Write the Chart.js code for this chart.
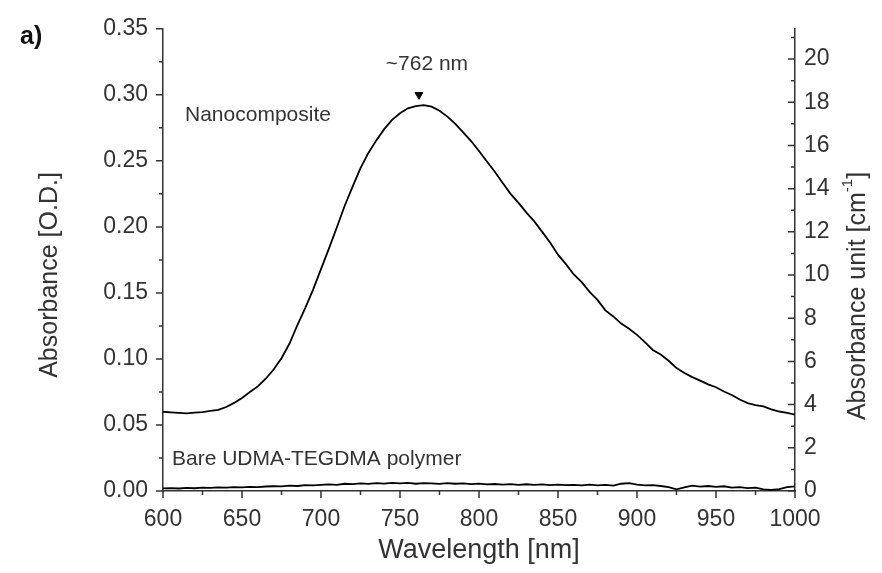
<!DOCTYPE html>
<html>
<head>
<meta charset="utf-8">
<script src="https://cdn.jsdelivr.net/npm/chart.js@4.4.1/dist/chart.umd.min.js"></script>
<style>
  html, body { margin: 0; padding: 0; background: #fff; }
  #wrap { width: 882px; height: 573px; }
</style>
</head>
<body>
<div id="wrap"><canvas id="absChart" width="882" height="573"></canvas></div>
<script>
// Data
const wavelengths = [600, 605, 610, 615, 620, 625, 630, 635, 640, 645,
  650, 655, 660, 665, 670, 675, 680, 685, 690, 695,
  700, 705, 710, 715, 720, 725, 730, 735, 740, 745,
  750, 755, 760, 765, 770, 775, 780, 785, 790, 795,
  800, 805, 810, 815, 820, 825, 830, 835, 840, 845,
  850, 855, 860, 865, 870, 875, 880, 885, 890, 895,
  900, 905, 910, 915, 920, 925, 930, 935, 940, 945,
  950, 955, 960, 965, 970, 975, 980, 985, 990, 995, 1000];

const nanocomposite = [0.0600, 0.0596, 0.0592, 0.0588, 0.0594, 0.0597, 0.0606, 0.0615, 0.0636, 0.0667,
  0.0705, 0.0750, 0.0792, 0.0850, 0.0920, 0.1005, 0.1115, 0.1255, 0.1385, 0.1525,
  0.1680, 0.1835, 0.1995, 0.2160, 0.2305, 0.2445, 0.2560, 0.2655, 0.2740, 0.2810,
  0.2860, 0.2898, 0.2915, 0.2922, 0.2910, 0.2880, 0.2835, 0.2780, 0.2715, 0.2650,
  0.2575, 0.2495, 0.2418, 0.2332, 0.2250, 0.2182, 0.2108, 0.2042, 0.1962, 0.1882,
  0.1790, 0.1718, 0.1640, 0.1582, 0.1508, 0.1447, 0.1368, 0.1322, 0.1268, 0.1228,
  0.1182, 0.1128, 0.1068, 0.1034, 0.0986, 0.0932, 0.0893, 0.0862, 0.0836, 0.0808,
  0.0786, 0.0753, 0.0727, 0.0693, 0.0666, 0.0650, 0.0641, 0.0618, 0.0602, 0.0592, 0.0578];

const barePolymer = [0.0020, 0.0022, 0.0019, 0.0024, 0.0021, 0.0026, 0.0023, 0.0027, 0.0025, 0.0029,
  0.0027, 0.0031, 0.0030, 0.0034, 0.0036, 0.0035, 0.0040, 0.0038, 0.0044, 0.0042,
  0.0046, 0.0050, 0.0047, 0.0055, 0.0052, 0.0057, 0.0054, 0.0060, 0.0056, 0.0062,
  0.0058, 0.0061, 0.0055, 0.0060, 0.0057, 0.0054, 0.0059, 0.0055, 0.0057, 0.0052,
  0.0056, 0.0050, 0.0053, 0.0048, 0.0052, 0.0047, 0.0051, 0.0046, 0.0050, 0.0045,
  0.0049, 0.0044, 0.0047, 0.0042, 0.0048, 0.0043, 0.0046, 0.0041, 0.0055, 0.0060,
  0.0048, 0.0042, 0.0045, 0.0038, 0.0030, 0.0012, 0.0028, 0.0040, 0.0033, 0.0038,
  0.0032, 0.0036, 0.0025, 0.0030, 0.0022, 0.0026, 0.0012, 0.0008, 0.0015, 0.0030, 0.0035];

// peak marker (~762 nm)
const peakX = [762];
const peakY = [0.300];

// axes
const xTicks = [600, 650, 700, 750, 800, 850, 900, 950, 1000];
const yTicks = [0.00, 0.05, 0.10, 0.15, 0.20, 0.25, 0.30, 0.35];
const y1Ticks = [0, 2, 4, 6, 8, 10, 12, 14, 16, 18, 20];
const y1Max = 21.4;

const axisColor = '#333';
const textColor = '#333';
const fontFamily = '"Liberation Sans", Arial, sans-serif';

function midpoints(arr) {
  const out = [];
  for (let i = 0; i < arr.length - 1; i++) out.push((arr[i] + arr[i + 1]) / 2);
  return out;
}

// ticks in Origin style: left/bottom outward, right inward, with minor ticks
const tickMarks = {
  id: 'tickMarks',
  afterDraw(chart) {
    const { ctx, scales: { x, y, y1 } } = chart;
    ctx.save();
    ctx.strokeStyle = axisColor;
    ctx.lineWidth = 1.5;
    ctx.beginPath();
    xTicks.forEach(v => { const p = x.getPixelForValue(v); ctx.moveTo(p, x.top); ctx.lineTo(p, x.top + 7); });
    midpoints(xTicks).forEach(v => { const p = x.getPixelForValue(v); ctx.moveTo(p, x.top); ctx.lineTo(p, x.top + 4); });
    yTicks.forEach(v => { const p = y.getPixelForValue(v); ctx.moveTo(y.right, p); ctx.lineTo(y.right - 7, p); });
    midpoints(yTicks).forEach(v => { const p = y.getPixelForValue(v); ctx.moveTo(y.right, p); ctx.lineTo(y.right - 4, p); });
    y1Ticks.forEach(v => { const p = y1.getPixelForValue(v); ctx.moveTo(y1.left, p); ctx.lineTo(y1.left - 7, p); });
    midpoints(y1Ticks).concat([21]).forEach(v => { const p = y1.getPixelForValue(v); ctx.moveTo(y1.left, p); ctx.lineTo(y1.left - 4, p); });
    ctx.stroke();
    ctx.restore();
  }
};

// panel letter, curve labels and rotated axis titles
const labels = {
  id: 'labels',
  afterDraw(chart) {
    const { ctx, scales: { x } } = chart;
    ctx.save();
    ctx.fillStyle = '#111';
    ctx.textBaseline = 'middle';
    ctx.font = 'bold 25px ' + fontFamily;
    ctx.fillText('a)', 20, 37);

    ctx.fillStyle = textColor;
    ctx.font = '21px ' + fontFamily;
    ctx.fillText('Nanocomposite', 185, 115);
    ctx.fillText('Bare UDMA-TEGDMA polymer', 172, 459);
    ctx.textAlign = 'center';
    ctx.fillText('~762 nm', x.getPixelForValue(762) + 8, 64);

    // left title
    ctx.font = '25px ' + fontFamily;
    ctx.save();
    ctx.translate(50, 275);
    ctx.rotate(-Math.PI / 2);
    ctx.fillText('Absorbance [O.D.]', 0, 0);
    ctx.restore();

    // right title with superscript
    ctx.save();
    ctx.translate(858, 296);
    ctx.rotate(-Math.PI / 2);
    ctx.textAlign = 'left';
    const main = 'Absorbance unit [cm';
    const sup = '-1';
    ctx.font = '25px ' + fontFamily;
    const wMain = ctx.measureText(main).width;
    const wClose = ctx.measureText(']').width;
    ctx.font = '15px ' + fontFamily;
    const wSup = ctx.measureText(sup).width;
    let cx = -(wMain + wSup + wClose) / 2;
    ctx.font = '25px ' + fontFamily;
    ctx.fillText(main, cx, 0);
    cx += wMain;
    ctx.font = '15px ' + fontFamily;
    ctx.fillText(sup, cx, -10);
    cx += wSup;
    ctx.font = '25px ' + fontFamily;
    ctx.fillText(']', cx, 0);
    ctx.restore();
    ctx.restore();
  }
};

const toXY = (xs, ys) => xs.map((v, i) => ({ x: v, y: ys[i] }));

new Chart(document.getElementById('absChart'), {
  type: 'line',
  data: {
    datasets: [
      {
        label: 'Nanocomposite',
        data: toXY(wavelengths, nanocomposite),
        borderColor: '#000',
        borderWidth: 1.8,
        pointRadius: 0,
        tension: 0,
        yAxisID: 'y'
      },
      {
        label: 'Bare UDMA-TEGDMA polymer',
        data: toXY(wavelengths, barePolymer),
        borderColor: '#000',
        borderWidth: 1.8,
        pointRadius: 0,
        tension: 0,
        yAxisID: 'y'
      },
      {
        label: 'peak',
        data: toXY(peakX, peakY),
        showLine: false,
        pointStyle: 'triangle',
        rotation: 180,
        pointRadius: 4.5,
        backgroundColor: '#000',
        borderColor: '#000',
        borderWidth: 1,
        yAxisID: 'y'
      }
    ]
  },
  options: {
    responsive: false,
    animation: false,
    layout: { padding: { top: 20, left: 0, right: 0, bottom: 0 } },
    plugins: {
      legend: { display: false },
      tooltip: { enabled: false }
    },
    scales: {
      x: {
        type: 'linear',
        min: 600,
        max: 1000,
        afterBuildTicks: s => { s.ticks = xTicks.map(v => ({ value: v })); },
        afterFit: s => { s.height = 82; },
        grid: { display: false, drawTicks: false },
        border: { display: true, color: axisColor, width: 1.5 },
        ticks: {
          color: textColor,
          padding: 15,
          maxRotation: 0,
          autoSkip: false,
          font: { family: fontFamily, size: 23 },
          callback: v => String(v)
        },
        title: {
          display: true,
          text: 'Wavelength [nm]',
          color: textColor,
          padding: { top: 0, bottom: 6 },
          font: { family: fontFamily, size: 27 }
        }
      },
      y: {
        type: 'linear',
        position: 'left',
        min: 0,
        max: 0.35,
        afterBuildTicks: s => { s.ticks = yTicks.map(v => ({ value: v })); },
        afterFit: s => { s.width = 163; },
        grid: { display: false, drawTicks: false },
        border: { display: true, color: axisColor, width: 1.5 },
        ticks: {
          color: textColor,
          padding: 15,
          autoSkip: false,
          font: { family: fontFamily, size: 23 },
          callback: v => v.toFixed(2)
        }
      },
      y1: {
        type: 'linear',
        position: 'right',
        min: 0,
        max: y1Max,
        afterBuildTicks: s => { s.ticks = y1Ticks.map(v => ({ value: v })); },
        afterFit: s => { s.width = 87; },
        grid: { display: false, drawTicks: false },
        border: { display: true, color: axisColor, width: 1.5 },
        ticks: {
          color: textColor,
          padding: 9,
          autoSkip: false,
          font: { family: fontFamily, size: 23 }
        }
      }
    }
  },
  plugins: [tickMarks, labels]
});
</script>
</body>
</html>
